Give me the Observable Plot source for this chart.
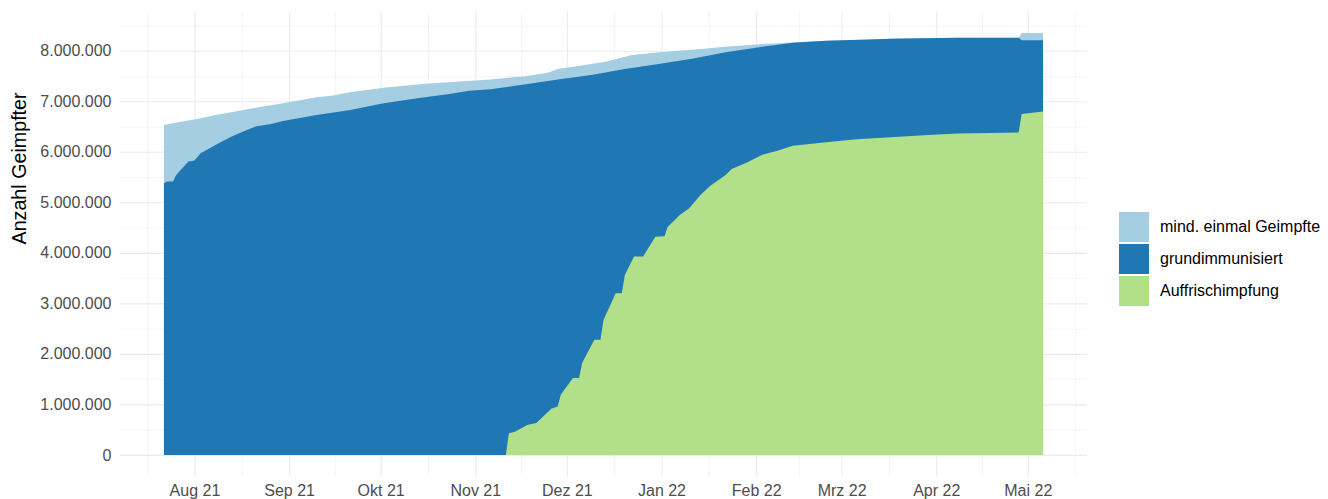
<!DOCTYPE html>
<html><head><meta charset="utf-8">
<script src="https://cdn.jsdelivr.net/npm/d3@7"></script>
<script src="https://cdn.jsdelivr.net/npm/@observablehq/plot@0.6"></script>
<style>
body{margin:0;background:#fff;font-family:"Liberation Sans",Arial,sans-serif;}
#wrap{position:relative;width:1328px;height:499px;overflow:hidden;}
#legend{position:absolute;left:1119px;top:211px;}
.item{display:flex;align-items:center;height:32px;}
.key{width:30px;height:30px;margin-right:11px;}
.lab{font-size:16px;color:#000;white-space:nowrap;}
</style></head><body><div id="wrap"><div id="chart"></div><div id="legend"></div></div>
<script>
// ---- Data ----
const seriesNames = ["mind. einmal Geimpfte", "grundimmunisiert", "Auffrischimpfung"];
const seriesColors = ["#a6cee3", "#1f78b4", "#b2df8a"];

const mindDates = ["2021-07-22","2021-07-28","2021-08-01","2021-08-08","2021-08-17","2021-08-19","2021-08-30","2021-09-10","2021-09-15","2021-09-21","2021-10-02","2021-10-13","2021-10-19","2021-10-27","2021-11-01","2021-11-06","2021-11-14","2021-11-17","2021-11-25","2021-11-28","2021-12-09","2021-12-14","2021-12-22","2021-12-31","2022-01-11","2022-01-22","2022-02-02","2022-02-08","2022-02-17","2022-02-24","2022-03-14","2022-03-17","2022-04-08","2022-04-28","2022-04-29","2022-05-06"];
const mindValues = [6530000,6600000,6640000,6730000,6830000,6850000,6960000,7080000,7110000,7180000,7270000,7330000,7360000,7390000,7410000,7430000,7480000,7490000,7570000,7640000,7740000,7790000,7910000,7970000,8020000,8080000,8130000,8150000,8180000,8200000,8220000,8240000,8260000,8260000,8350000,8350000];

const grundDates = ["2021-07-22","2021-07-23","2021-07-25","2021-07-26","2021-07-30","2021-08-01","2021-08-03","2021-08-06","2021-08-08","2021-08-13","2021-08-17","2021-08-21","2021-08-26","2021-08-30","2021-09-10","2021-09-21","2021-10-02","2021-10-13","2021-10-24","2021-10-30","2021-11-06","2021-11-17","2021-11-28","2021-12-09","2021-12-20","2021-12-31","2022-01-11","2022-01-22","2022-02-02","2022-02-08","2022-02-13","2022-02-24","2022-03-17","2022-04-08","2022-04-28","2022-04-29","2022-05-06"];
const grundValues = [5380000,5410000,5410000,5540000,5810000,5830000,5970000,6070000,6140000,6300000,6400000,6500000,6550000,6610000,6730000,6830000,6960000,7060000,7150000,7210000,7240000,7330000,7430000,7520000,7640000,7740000,7840000,7970000,8070000,8120000,8160000,8200000,8240000,8260000,8260000,8210000,8210000];

const boosterDates = ["2021-11-11","2021-11-12","2021-11-14","2021-11-18","2021-11-21","2021-11-26","2021-11-28","2021-11-29","2021-12-03","2021-12-05","2021-12-06","2021-12-10","2021-12-12","2021-12-13","2021-12-17","2021-12-19","2021-12-20","2021-12-23","2021-12-26","2021-12-30","2022-01-02","2022-01-03","2022-01-07","2022-01-10","2022-01-14","2022-01-17","2022-01-22","2022-01-24","2022-01-29","2022-02-03","2022-02-08","2022-02-13","2022-02-24","2022-03-06","2022-03-17","2022-03-28","2022-04-08","2022-04-19","2022-04-28","2022-04-29","2022-05-06"];
const boosterValues = [0,430000,460000,590000,630000,920000,960000,1190000,1520000,1520000,1820000,2280000,2280000,2670000,3200000,3200000,3560000,3930000,3930000,4320000,4330000,4510000,4750000,4880000,5160000,5330000,5540000,5660000,5790000,5940000,6020000,6120000,6190000,6250000,6290000,6330000,6360000,6370000,6380000,6750000,6800000];

const xTickDates = ["2021-08-01","2021-09-01","2021-10-01","2021-11-01","2021-12-01","2022-01-01","2022-02-01","2022-03-01","2022-04-01","2022-05-01"];
const xTickLabels = ["Aug 21","Sep 21","Okt 21","Nov 21","Dez 21","Jan 22","Feb 22","Mrz 22","Apr 22","Mai 22"];
const yTickValues = [0,1000000,2000000,3000000,4000000,5000000,6000000,7000000,8000000];
const yTickLabels = ["0","1.000.000","2.000.000","3.000.000","4.000.000","5.000.000","6.000.000","7.000.000","8.000.000"];
const yLabel = "Anzahl Geimpfter";

// ---- Build tables ----
const toRows = (dates, values) => dates.map((d, i) => ({date: new Date(d), value: values[i]}));
const mind = toRows(mindDates, mindValues);
const grund = toRows(grundDates, grundValues);
const booster = toRows(boosterDates, boosterValues);
const all = [...mind, ...grund, ...booster];

const xMin = d3.min(all, d => d.date), xMax = d3.max(all, d => d.date);
const xPad = (xMax - xMin) * 0.05;
const yMax = d3.max(all, d => d.value);
const yPad = yMax * 0.05;

const xMajor = xTickDates.map(d => new Date(d));
const xExt = [new Date("2021-07-01"), ...xMajor, new Date("2022-06-01")];
const xMinor = d3.pairs(xExt).map(([a, b]) => new Date((+a + +b) / 2));
const yMinor = d3.range(500000, 9000000, 1000000);

const xLab = new Map(xMajor.map((d, i) => [+d, xTickLabels[i]]));
const yLab = new Map(yTickValues.map((d, i) => [d, yTickLabels[i]]));

const grid = "#ebebeb";
const chart = Plot.plot({
  width: 1328, height: 499,
  marginLeft: 120, marginRight: 241, marginTop: 12, marginBottom: 23,
  x: {type: "utc", domain: [new Date(+xMin - xPad), new Date(+xMax + xPad)], label: null},
  y: {domain: [-yPad, yMax + yPad], label: null},
  style: {fontFamily: "'Liberation Sans', Arial, sans-serif", fontSize: "16px", color: "#4d4d4d", background: "white", overflow: "visible"},
  marks: [
    Plot.ruleY(yMinor, {stroke: grid, strokeWidth: 0.55}),
    Plot.ruleY(yTickValues, {stroke: grid, strokeWidth: 1.1}),
    Plot.ruleX(xMinor, {stroke: grid, strokeWidth: 0.55}),
    Plot.ruleX(xMajor, {stroke: grid, strokeWidth: 1.1}),
    Plot.areaY(mind, {x: "date", y: "value", fill: seriesColors[0]}),
    Plot.areaY(grund, {x: "date", y: "value", fill: seriesColors[1]}),
    Plot.areaY(booster, {x: "date", y: "value", fill: seriesColors[2]}),
    Plot.axisY({ticks: yTickValues, tickSize: 0, tickPadding: 9, label: null, tickFormat: d => yLab.get(d)}),
    Plot.axisX({ticks: xMajor, tickSize: 0, tickPadding: 8, label: null, tickFormat: d => xLab.get(+d)}),
    Plot.text([yLabel], {frameAnchor: "left", dx: -101, rotate: -90, fontSize: 19.7, fill: "#000"})
  ]
});
document.getElementById("chart").appendChild(chart);

const legend = document.getElementById("legend");
seriesNames.forEach((name, i) => {
  const item = document.createElement("div");
  item.className = "item";
  const key = document.createElement("div");
  key.className = "key";
  key.style.background = seriesColors[i];
  const lab = document.createElement("span");
  lab.className = "lab";
  lab.textContent = name;
  item.appendChild(key); item.appendChild(lab);
  legend.appendChild(item);
});
</script></body></html>
